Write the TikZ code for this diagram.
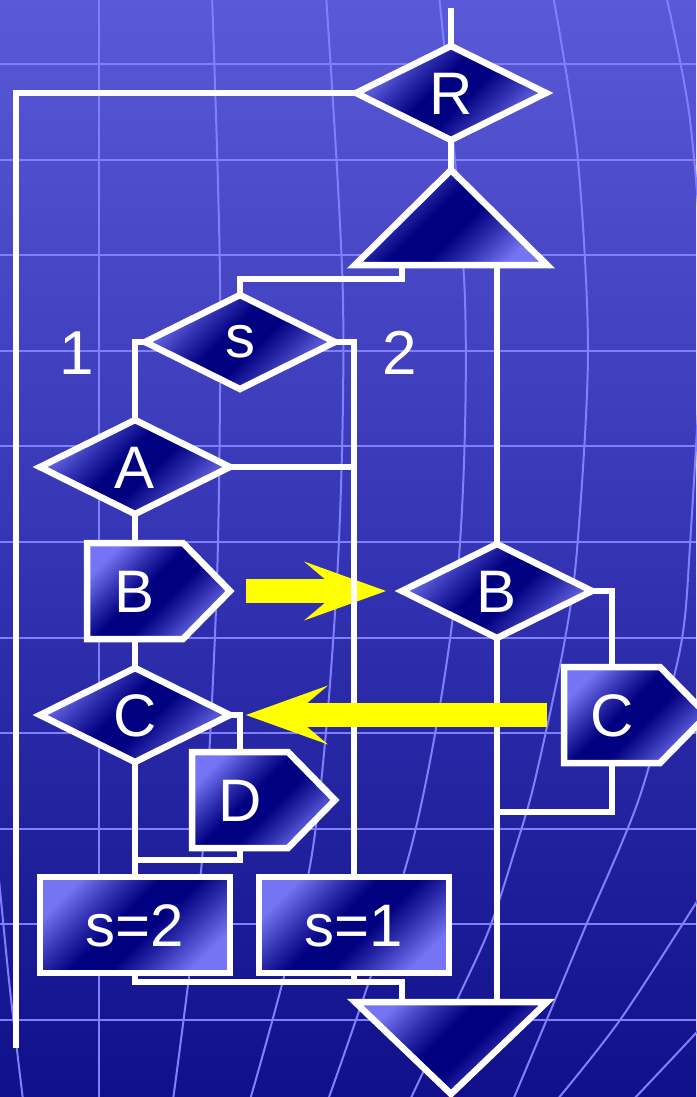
\documentclass[tikz,border=0pt]{standalone}
\usepackage{fontspec}
\setmainfont{Liberation Sans}
\usetikzlibrary{shapes.geometric,arrows.meta,calc}
\pgfdeclarelayer{bg}
\pgfdeclarelayer{shp}
\pgfsetlayers{bg,shp,main}
\definecolor{bgtop}{RGB}{90,90,216}
\definecolor{bgmid}{RGB}{52,52,180}
\definecolor{bgbot}{RGB}{16,16,138}
\definecolor{gridc}{RGB}{128,128,252}
\definecolor{shlight}{RGB}{116,116,244}
\definecolor{shmid}{RGB}{48,48,176}
\definecolor{shdark}{RGB}{0,0,128}
\definecolor{yel}{RGB}{255,255,0}
\pgfdeclareverticalshading{shpshade}{100bp}{color(0bp)=(shlight); color(25bp)=(shlight); color(36bp)=(shmid); color(45bp)=(shdark); color(55bp)=(shdark); color(64bp)=(shmid); color(75bp)=(shlight); color(100bp)=(shlight)}
\newcommand\ctext[2][0.358em]{\smash{\makebox[0pt]{\raisebox{-#1}{#2}}}}
\begin{document}
\begin{tikzpicture}[x=1pt,y=-1pt,
  shapefill/.style={draw=white, line width=6.5pt, shade, shading=shpshade, shading angle=45},
  txtfont/.style={text=white, font=\fontsize{60pt}{70pt}\selectfont},
  dia/.style={shapefill, diamond, minimum width=190pt, minimum height=94pt, inner sep=0pt, outer sep=0pt, txtfont},
  boxn/.style={shapefill, rectangle, minimum width=190pt, minimum height=96pt, inner sep=0pt, outer sep=0pt, txtfont},
  body/.style={rectangle, minimum width=96pt, minimum height=96pt, inner sep=0pt, outer sep=0pt, txtfont},
  tri/.style={rectangle, minimum width=192pt, inner sep=0pt, outer sep=0pt},
  wire/.style={draw=white, line width=6pt},
  yarrow/.style={draw=yel, line width=24pt, -{Stealth[length=82pt,width=59pt,inset=35pt,line width=0pt]}},
  gridline/.style={draw=gridc, line width=2pt},
  lbl/.style={text=white, font=\fontsize{62pt}{72pt}\selectfont, inner sep=0pt}
]
\useasboundingbox (0,0) rectangle (696,1097);
\begin{pgfonlayer}{bg}
  \shade[top color=bgtop, bottom color=bgbot, middle color=bgmid] (0,0) rectangle (696,1097);
  \foreach \k in {0,...,10} {
    \draw[gridline] (0,64+95.6*\k) -- (696,64+95.6*\k);
  }
  \draw[gridline] plot[smooth] coordinates {(-3,860) (0,890) (10,990) (23,1100)};
  \draw[gridline] (99,0) -- (99,1097);
  \draw[gridline] plot[smooth] coordinates {(212,-5) (220,280) (217,580) (202,860) (173,1100)};
  \draw[gridline] plot[smooth] coordinates {(326,-5) (343,300) (337,580) (311,860) (250,1100)};
  \draw[gridline] plot[smooth] coordinates {(439,-5) (465,300) (457,580) (413,840) (328,1100)};
  \draw[gridline] plot[smooth] coordinates {(553,-5) (577,150) (588,350) (577,550) (563,650) (535,780) (518,840) (490,927) (457,1000) (410,1100)};
  \draw[gridline] plot[smooth] coordinates {(666,-5) (690,120) (702,300) (690,545) (680,650) (645,780) (623,840) (587,923) (555,1000) (513,1100)};
  \draw[gridline] plot[smooth] coordinates {(715,870) (696,903) (620,1020) (557,1100)};
  \draw[gridline] plot[smooth] coordinates {(720,1005) (696,1033) (633,1100)};
\end{pgfonlayer}

% nodes
\node[dia] (R) at (451,93) {\ctext{R}};
\node[tri, minimum height=95pt] (T1) at (451,217.5) {};
\node[dia] (s) at (240,342) {\ctext[0.26em]{s}};
\node[dia] (A) at (135,467) {\ctext{A}};
\node[body] (B) at (135,591) {\ctext{B}};
\node[dia] (B2) at (497,591) {\ctext{B}};
\node[dia] (C) at (135,715) {\ctext{C}};
\node[body] (C2) at (612,715) {\ctext{C}};
\node[body] (D) at (240,800) {\ctext{D}};
\node[boxn] (s2) at (135,925) {\ctext{s=2}};
\node[boxn] (s1) at (354,925) {\ctext{s=1}};
\node[tri, minimum height=92pt] (T2) at (451,1048) {};
\node[lbl] (one) at (77,352) {\ctext{1}};
\node[lbl] (two) at (400,352) {\ctext{2}};

\begin{pgfonlayer}{shp}
  \path[shapefill] (T1.south west) -- (T1.north) -- (T1.south east) -- cycle;
  \path[shapefill] (T2.north west) -- (T2.north east) -- (T2.south) -- cycle;
  \foreach \n in {B,C2,D} {
    \path[shapefill] (\n.north west) -- (\n.north east) -- ([xshift=47pt]\n.east) -- (\n.south east) -- (\n.south west) -- cycle;
  }
\end{pgfonlayer}

\coordinate (start) at (451,8);
\coordinate (loopend) at (16,1048);
\coordinate (Dj) at (135,860);
\coordinate (Cj) at (497,812);

% arrow under the wires
\draw[yarrow] ([xshift=63pt]B.east) -- ([xshift=-16pt]B2.west);

% wires
\draw[wire] (start) -- (R.north);
\draw[wire] (R.south) -- (T1.north);
\draw[wire] (R.west) -| (loopend);
\draw[wire] ([xshift=-49pt]T1.south) -- ++(0,14) -| (s.north);
\draw[wire] ([xshift=46pt]T1.south) -- (B2.north);
\draw[wire] (s.west) -| (A.north);
\draw[wire] (s.east) -| (s1.north);
\draw[wire] (A.east) -- (A.east -| s1.north);
\draw[wire] (A.south) -- (B.north);
\draw[wire] (B.south) -- (C.north);
\draw[wire] (C.east) -| (D.north);
\draw[wire] (C.south) -- (s2.north);
\draw[wire] (D.south) |- (Dj);
\draw[wire] (B2.east) -| (C2.north);
\draw[wire] (C2.south) |- (Cj);
\draw[wire] (B2.south) -- ([xshift=46pt]T2.north);
\draw[wire] (s2.south) -- ++(0,9) -| ([xshift=-49pt]T2.north);
\draw[wire] (s1.south) -- ++(0,9);

% arrow over the wires
\draw[yarrow] ([xshift=-17pt]C2.west) -- ([xshift=16pt]C.east);
\end{tikzpicture}
\end{document}
